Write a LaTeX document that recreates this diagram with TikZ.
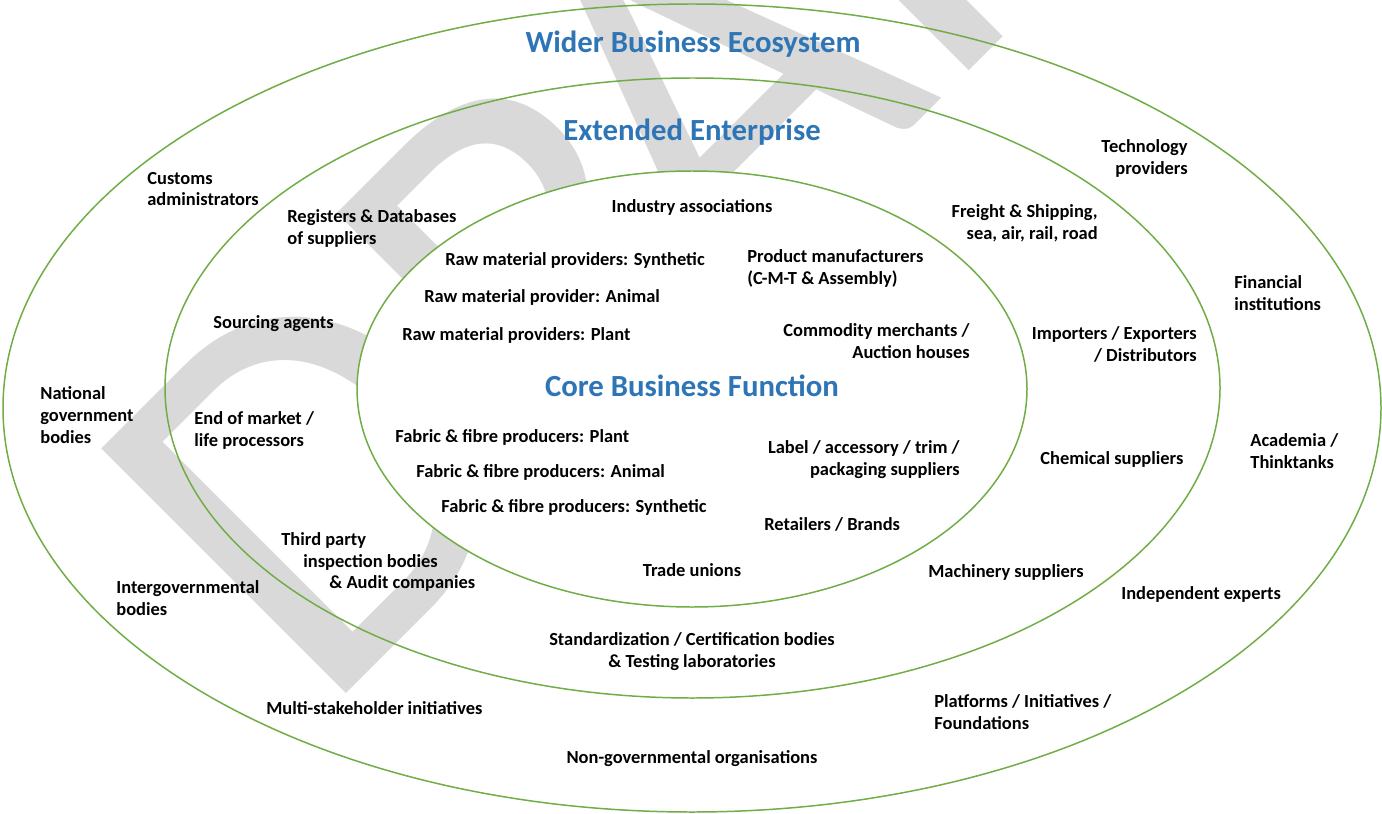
\documentclass[tikz,border=0pt]{standalone}
\usepackage{fontspec}
\setmainfont{Carlito}
\usetikzlibrary{positioning}
\definecolor{ringgreen}{HTML}{70AD47}
\definecolor{titleblue}{HTML}{2E75B6}
\definecolor{draftgray}{HTML}{D9D9D9}

\begin{document}
\begin{tikzpicture}[
    x=0.02cm, y=-0.02cm,
    ring/.style={draw=ringgreen, line width=0.85pt},
    heading/.style={font=\fontsize{17.5}{21}\selectfont\bfseries, text=titleblue, inner sep=0pt},
    actor/.style={font=\fontsize{10.5}{12.5}\selectfont\bfseries, inner sep=0pt, align=left, anchor=west},
    actorright/.style={actor, align=right, anchor=east},
    actorcentre/.style={actor, align=center, anchor=center},
    watermark/.style={font=\fontsize{307}{307}\selectfont, text=draftgray, rotate=45, inner sep=0pt, anchor=base west}
]
\useasboundingbox (0,0) rectangle (1382,814);
\clip (0,0) rectangle (1382,814);

% Watermark
\node[watermark] (draft) at (320,720) {DR\kern-32pt AFT};

% Rings
\draw[ring] (692,408) ellipse [x radius=689, y radius=404];
\draw[ring] (692.5,388) ellipse [x radius=527.5, y radius=310];
\draw[ring, fill=white] (692,389) ellipse [x radius=335, y radius=218];

% Headings
\node[heading] (wider) at (693,44) {Wider Business Ecosystem};
\node[heading] (extended) at (692,132) {Extended Enterprise};
\node[heading] (core) at (692,386) {Core Business Function};

% Core business function
\node[actorcentre] (industry) at (692,207) {Industry associations};
\node[actor] (rawsyn) at (445,260) {Raw material providers: Synthetic};
\node[actor] (rawani) at (424,297) {Raw material provider: Animal};
\node[actor] (rawpla) at (402,335) {Raw material providers: Plant};
\node[actor] (product) at (747,268) {Product manufacturers\\(C-M-T \& Assembly)};
\node[actorright] (commodity) at (970,341) {Commodity merchants /\\Auction houses};
\node[actor] (fabpla) at (395,437) {Fabric \& fibre producers: Plant};
\node[actor] (fabani) at (416,472) {Fabric \& fibre producers: Animal};
\node[actor] (fabsyn) at (441,507) {Fabric \& fibre producers: Synthetic};
\node[actorright] (trim) at (960,460) {Label / accessory / trim /\\packaging suppliers};
\node[actor] (retail) at (764,524) {Retailers / Brands};
\node[actorcentre] (unions) at (692,570) {Trade unions};

% Extended enterprise
\node[actor] (registers) at (287,228) {Registers \& Databases\\of suppliers};
\node[actorright] (freight) at (1098,223) {Freight \& Shipping,\\sea, air, rail, road};
\node[actor] (sourcing) at (213,324) {Sourcing agents};
\node[actorright] (importers) at (1197,344) {Importers / Exporters\\/ Distributors};
\node[actor] (endlife) at (194,430) {End of market /\\life processors};
\node[actor] (chemical) at (1040,459) {Chemical suppliers};
\node[actor] (thirdparty) at (281,562) {Third party\\\hspace*{0.44cm}inspection bodies\\\hspace*{0.96cm}\& Audit companies};
\node[actor] (machinery) at (928,572) {Machinery suppliers};
\node[actorcentre] (standard) at (692,652) {Standardization / Certification bodies\\\& Testing laboratories};

% Wider business ecosystem
\node[actor] (customs) at (147,189) {Customs\\administrators};
\node[actorright] (technology) at (1188,158) {Technology\\providers};
\node[actor] (financial) at (1234,293) {Financial\\institutions};
\node[actor] (national) at (40,415) {National\\government\\bodies};
\node[actor] (academia) at (1250,451) {Academia /\\Thinktanks};
\node[actor] (intergov) at (116,598) {Intergovernmental\\bodies};
\node[actor] (experts) at (1121,594) {Independent experts};
\node[actor] (platforms) at (934,712) {Platforms / Initiatives /\\Foundations};
\node[actor] (multi) at (266,708) {Multi-stakeholder initiatives};
\node[actorcentre] (ngo) at (692,759) {Non-governmental organisations};

\end{tikzpicture}
\end{document}
